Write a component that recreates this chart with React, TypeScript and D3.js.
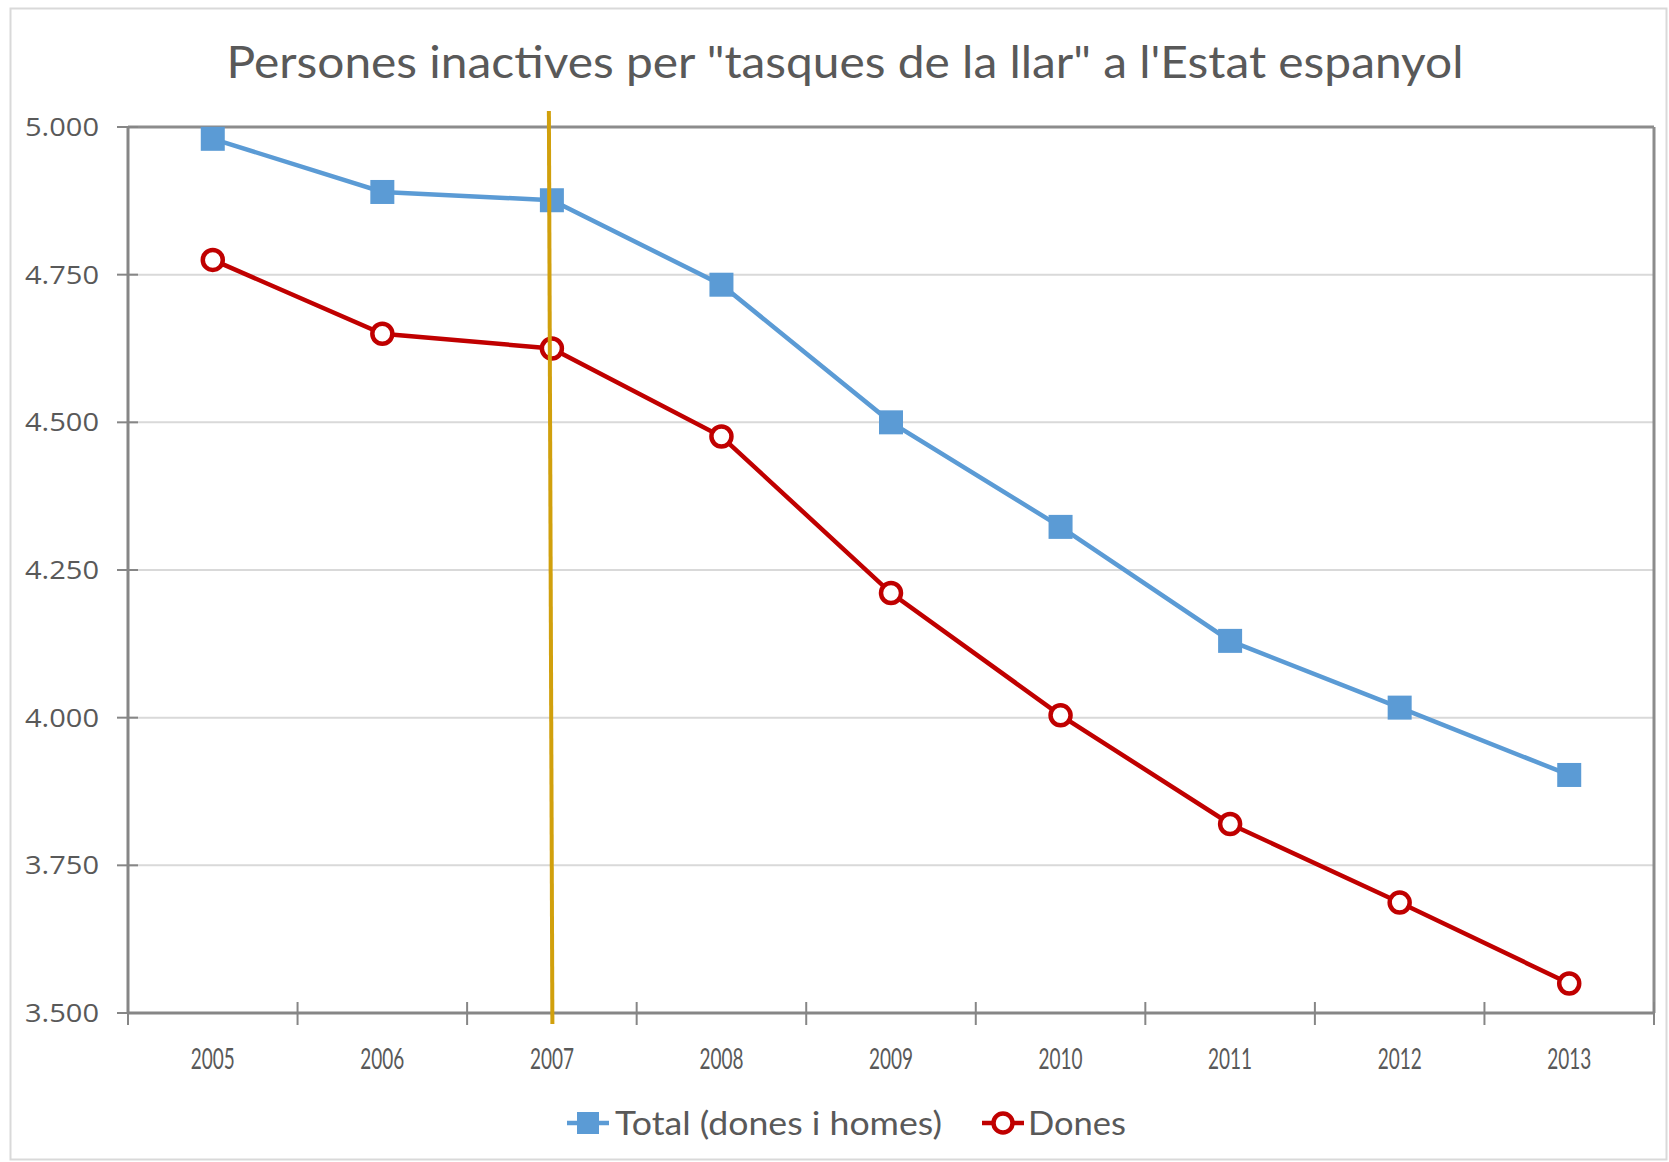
import React from "react";
import * as d3 from "d3";

const years = ["2005", "2006", "2007", "2008", "2009", "2010", "2011", "2012", "2013"];
const totalValues = [4.98, 4.89, 4.876, 4.733, 4.5, 4.323, 4.13, 4.017, 3.903];
const donesValues = [4.775, 4.65, 4.625, 4.476, 4.211, 4.004, 3.82, 3.687, 3.55];
const yTicks = [3.5, 3.75, 4.0, 4.25, 4.5, 4.75, 5.0];
const markerYear = "2007";
const title = "Persones inactives per \"tasques de la llar\" a l'Estat espanyol";
const seriesNames = ["Total (dones i homes)", "Dones"];

const W = 1669;
const H = 1162;
const L = 128, R = 1654, T = 127, B = 1013;

const BLUE = "#5B9BD5";
const RED = "#C00000";
const GOLD = "#D1A00C";
const TXT = "#595959";
const CALI = "Lato, 'Open Sans', sans-serif";

export default function App() {
  const x = d3.scaleBand<string>().domain(years).range([L, R]).paddingInner(0).paddingOuter(0);
  const cx = (yr: string) => (x(yr) as number) + x.bandwidth() / 2;
  const y = d3.scaleLinear().domain([3.5, 5]).range([B, T]);
  const fmt = (v: number) => d3.format(".3f")(v);

  const line = d3.line<number>().x((_, i) => cx(years[i])).y((v) => y(v));

  const boundaries = d3.range(years.length + 1).map((i) => L + i * x.bandwidth());
  const mx = cx(markerYear);

  return (
    <svg width={W} height={H} style={{ position: "absolute", left: 0, top: 0, background: "#fff" }}>
      <rect x={0} y={0} width={W} height={H} fill="#fff" />
      <rect x={10.5} y={8.5} width={1656} height={1151} fill="#fff" stroke="#d9d9d9" strokeWidth={2} />
      <text x={845} y={78} textAnchor="middle" fontFamily={CALI} fontSize={45} fill={TXT}
        textLength={1237} lengthAdjust="spacingAndGlyphs">{title}</text>

      {yTicks.map((t) => (
        <line key={"g" + t} x1={L} x2={R} y1={y(t)} y2={y(t)} stroke="#d9d9d9" strokeWidth={2} />
      ))}
      <line x1={L} x2={R} y1={T} y2={T} stroke="#8c8c8c" strokeWidth={3} />
      <line x1={R} x2={R} y1={T} y2={B} stroke="#8c8c8c" strokeWidth={3} />
      <line x1={L} x2={L} y1={T} y2={B} stroke="#868686" strokeWidth={3} />
      <line x1={L} x2={R} y1={B} y2={B} stroke="#868686" strokeWidth={3} />

      {yTicks.map((t) => (
        <g key={"yt" + t}>
          <line x1={L - 11} x2={L + 10} y1={y(t)} y2={y(t)} stroke="#868686" strokeWidth={2} />
          <text x={99} y={y(t) + 9} textAnchor="end" fontFamily="'Open Sans', sans-serif" fontSize={26} fill={TXT}
            textLength={74} lengthAdjust="spacingAndGlyphs">
            {fmt(t)}
          </text>
        </g>
      ))}
      {boundaries.map((bx, i) => (
        <line key={"xt" + i} x1={bx} x2={bx} y1={B - 11} y2={B + 12} stroke="#868686" strokeWidth={2} />
      ))}
      {years.map((yr) => (
        <text key={"xl" + yr} x={cx(yr)} y={1069} textAnchor="middle" fontFamily={CALI} fontSize={29} fill={TXT}
          textLength={44} lengthAdjust="spacingAndGlyphs">{yr}</text>
      ))}

      <path d={line(totalValues) || ""} fill="none" stroke={BLUE} strokeWidth={4.5} />
      <path d={line(donesValues) || ""} fill="none" stroke={RED} strokeWidth={4.5} />
      {totalValues.map((v, i) => (
        <rect key={"s" + i} x={cx(years[i]) - 12} y={y(v) - 12} width={24} height={24} fill={BLUE} />
      ))}
      {donesValues.map((v, i) => (
        <circle key={"c" + i} cx={cx(years[i])} cy={y(v)} r={10} fill="#fff" stroke={RED} strokeWidth={4.5} />
      ))}

      <line x1={mx - 3} y1={111} x2={mx + 0.5} y2={1024} stroke={GOLD} strokeWidth={4} />

      <line x1={567} x2={609} y1={1123} y2={1123} stroke={BLUE} strokeWidth={4.5} />
      <rect x={577} y={1112} width={22} height={22} fill={BLUE} />
      <text x={615} y={1135} fontFamily={CALI} fontSize={32} fill={TXT}
        textLength={327} lengthAdjust="spacingAndGlyphs">{seriesNames[0]}</text>
      <line x1={982} x2={1024} y1={1123} y2={1123} stroke={RED} strokeWidth={4.5} />
      <circle cx={1003} cy={1123} r={9.5} fill="#fff" stroke={RED} strokeWidth={4.5} />
      <text x={1028} y={1135} fontFamily={CALI} fontSize={32} fill={TXT}
        textLength={98} lengthAdjust="spacingAndGlyphs">{seriesNames[1]}</text>
    </svg>
  );
}
